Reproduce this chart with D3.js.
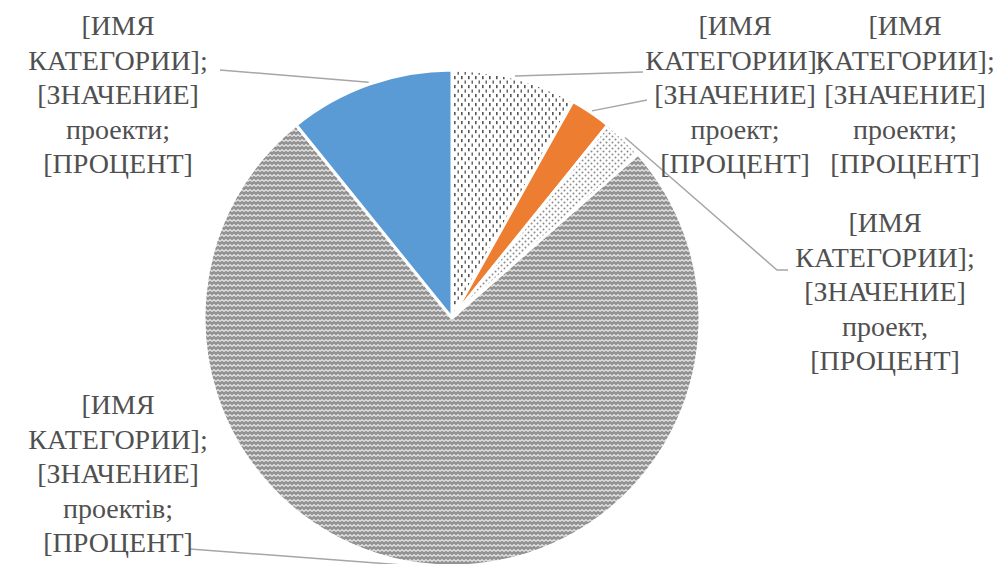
<!DOCTYPE html>
<html>
<head>
<meta charset="utf-8">
<script src="https://cdn.jsdelivr.net/npm/d3@7"></script>
<style>
  body { margin: 0; background: #fff; }
  svg { display: block; }
</style>
</head>
<body>
<div id="chart"></div>
<script>
// data (clockwise from 12 o'clock)
const categories = ['cat1', 'cat2', 'cat3', 'cat4', 'cat5']
const values = [3, 1, 1, 28, 4]
const nouns = ['проект;', 'проекти;', 'проект,', 'проектів;', 'проекти;']
const labelLines = ['[ИМЯ', 'КАТЕГОРИИ];', '[ЗНАЧЕНИЕ]', null, '[ПРОЦЕНТ]']

// layout
const width = 1001
const height = 564
const cx = 452
const cy = 318
const radius = 248
const lineGap = 34.5

// label anchor (text centre x, first baseline) and leader line end points
const labelPos = [
  { x: 735, y: 35, path: [[643, 72]] },
  { x: 905, y: 35, path: [[647, 100]] },
  { x: 885, y: 232, path: [[777, 270], [788, 270]] },
  { x: 118, y: 414, path: [[190, 549]] },
  { x: 118, y: 35, path: [[220, 70]] }
]

const svg = d3.select('#chart')
  .append('svg')
  .attr('width', width)
  .attr('height', height)

// fill patterns
const defs = svg.append('defs')

const p1 = defs.append('pattern').attr('id', 'dots-big')
  .attr('patternUnits', 'userSpaceOnUse').attr('width', 7).attr('height', 9)
p1.append('rect').attr('width', 7).attr('height', 9).attr('fill', '#fff')
p1.append('rect').attr('x', 2).attr('y', 1).attr('width', 1.6).attr('height', 3.2).attr('fill', '#555')
p1.append('rect').attr('x', 5.5).attr('y', 5.5).attr('width', 1.6).attr('height', 3.2).attr('fill', '#666')

const p2 = defs.append('pattern').attr('id', 'dots-small')
  .attr('patternUnits', 'userSpaceOnUse').attr('width', 6).attr('height', 6)
p2.append('rect').attr('width', 6).attr('height', 6).attr('fill', '#fff')
p2.append('circle').attr('cx', 1.5).attr('cy', 1.5).attr('r', 1).attr('fill', '#8a8a8a')
p2.append('circle').attr('cx', 4.5).attr('cy', 4.5).attr('r', 1).attr('fill', '#8a8a8a')

const p3 = defs.append('pattern').attr('id', 'wave')
  .attr('patternUnits', 'userSpaceOnUse').attr('width', 8).attr('height', 5)
p3.append('rect').attr('width', 8).attr('height', 5).attr('fill', '#929292')
p3.append('path').attr('d', 'M0,3.5 L2,1.5 L4,3.5 L6,1.5 L8,3.5')
  .attr('fill', 'none').attr('stroke', '#e6e6e6').attr('stroke-width', 1.2)

const fills = ['url(#dots-big)', '#ed7d31', 'url(#dots-small)', 'url(#wave)', '#5b9bd5']

const pie = d3.pie().sort(null).value(d => d)
const arcs = pie(values)
const arc = d3.arc().innerRadius(0).outerRadius(radius)
const g = svg.append('g').attr('transform', `translate(${cx},${cy})`)

g.selectAll('path.slice')
  .data(arcs)
  .enter()
  .append('path')
  .attr('class', 'slice')
  .attr('d', arc)
  .attr('fill', (d, i) => fills[i])
  .attr('stroke', '#fff')
  .attr('stroke-width', 3)
  .attr('stroke-linejoin', 'round')

// leader lines from slice mid-point on the rim
arcs.forEach((d, i) => {
  const mid = (d.startAngle + d.endAngle) / 2
  const start = [cx + (radius + 2) * Math.sin(mid), cy - (radius + 2) * Math.cos(mid)]
  svg.append('path')
    .attr('d', d3.line()([start].concat(labelPos[i].path)))
    .attr('fill', 'none')
    .attr('stroke', '#a6a6a6')
    .attr('stroke-width', 1.5)
})

// labels
arcs.forEach((d, i) => {
  const pos = labelPos[i]
  const t = svg.append('text')
    .attr('text-anchor', 'middle')
    .attr('font-family', "'Times New Roman', Tinos, 'Liberation Serif', 'Noto Serif', 'DejaVu Serif', FreeSerif, serif")
    .attr('font-size', 28)
    .attr('fill', '#505050')
  labelLines.forEach((line, k) => {
    t.append('tspan')
      .attr('x', pos.x)
      .attr('y', pos.y + k * lineGap)
      .text(line === null ? nouns[i] : line)
  })
})
</script>
</body>
</html>
